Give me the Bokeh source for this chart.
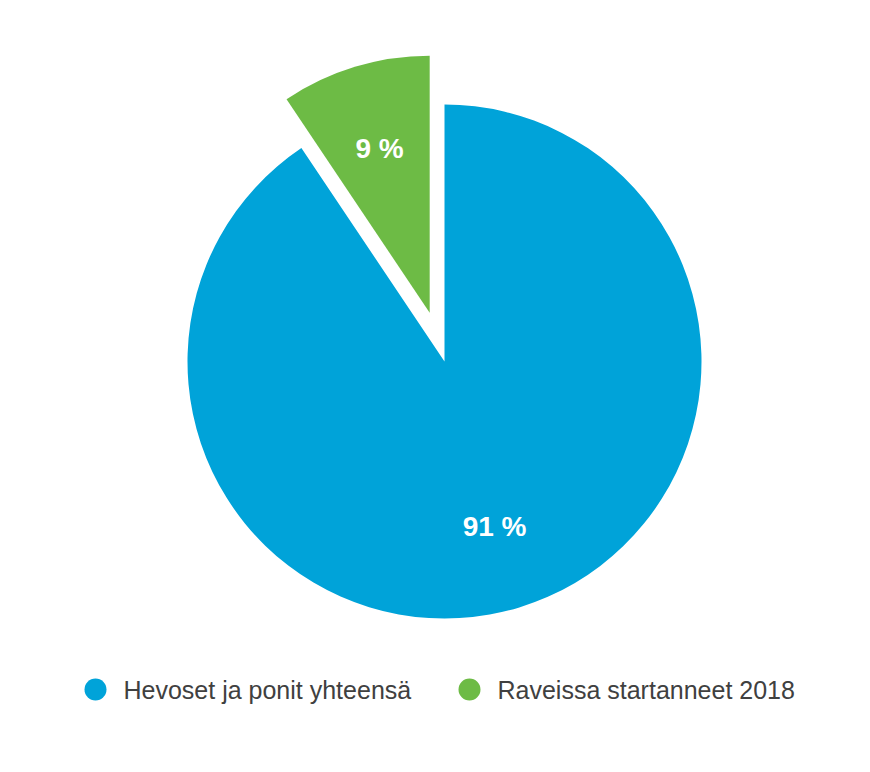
import math
from bokeh.plotting import figure
from bokeh.models import Range1d, ColumnDataSource
from bokeh.core.properties import value
from bokeh.embed import file_html
from bokeh.resources import INLINE

categories = ["Hevoset ja ponit yhteensä", "Raveissa startanneet 2018"]
values = [90.6, 9.4]
labels = ["91 %", "9 %"]
colors = ["#00a3d9", "#6dbb45"]

W, H = 854, 756
p = figure(width=W, height=H, output_backend="svg", toolbar_location=None,
           x_range=Range1d(0, W), y_range=Range1d(0, H), min_border=0)
p.axis.visible = False
p.grid.visible = False
p.outline_line_color = None
p.background_fill_color = "white"

cx, cy, R = 444, H - 361, 257
explode = [0, 51]
label_dist = 172
FONT = "Liberation Sans"

total = sum(values)
green_span = values[1] / total * 2 * math.pi
top = math.pi / 2
starts = [top + green_span, top]
ends = [top + 2 * math.pi, top + green_span]

xs, ys, lx, ly = [], [], [], []
for i in range(2):
    mid = (starts[i] + ends[i]) / 2
    ox = cx + explode[i] * math.cos(mid)
    oy = cy + explode[i] * math.sin(mid)
    xs.append(ox)
    ys.append(oy)
    lx.append(ox + label_dist * math.cos(mid))
    ly.append(oy + label_dist * math.sin(mid))

src = ColumnDataSource(dict(x=xs, y=ys, start=starts, end=ends, color=colors,
                            lx=lx, ly=ly, label=labels))
p.wedge(x="x", y="y", radius=R, start_angle="start", end_angle="end",
        fill_color="color", line_color=None, source=src)
p.text(x="lx", y="ly", text="label", text_color="white", text_font=value(FONT),
       text_font_size="28px", text_font_style="bold", text_align="center",
       text_baseline="middle", source=src)

# legend
leg_x = [95, 469]
leg_y = [H - 689, H - 689]
leg = ColumnDataSource(dict(x=leg_x, y=leg_y, tx=[v + 28 for v in leg_x],
                            color=colors, name=categories))
p.scatter(x="x", y="y", size=22, fill_color="color", line_color=None, source=leg)
p.text(x="tx", y="y", text="name", text_color="#404040", text_font=value(FONT),
       text_font_size="25px", text_align="left", text_baseline="middle", source=leg)

open("out.html", "w").write(file_html(p, INLINE))
